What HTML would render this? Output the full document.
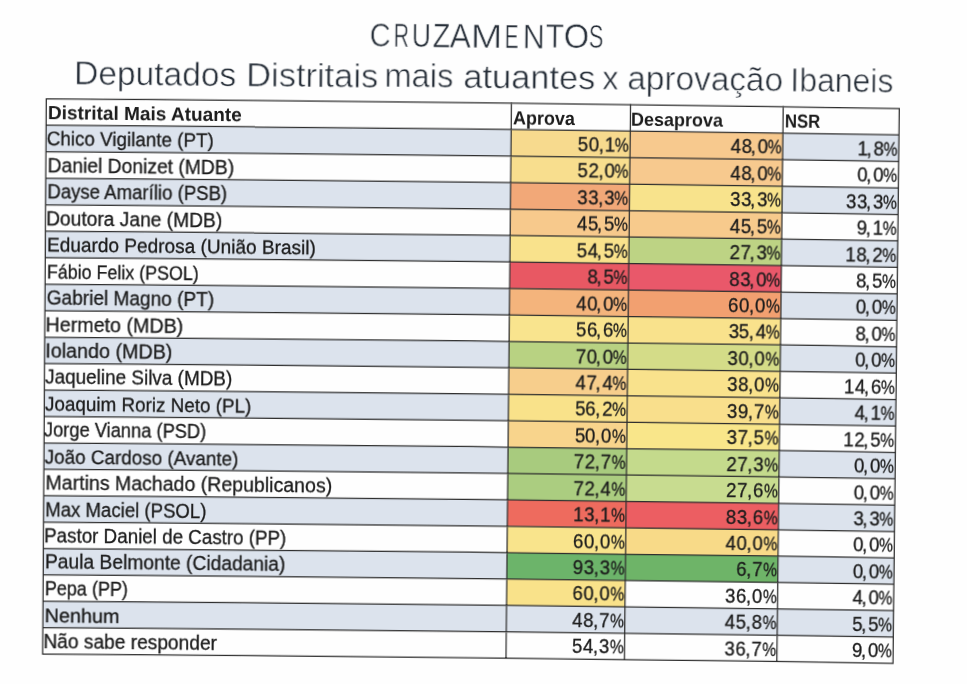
<!DOCTYPE html>
<html><head><meta charset="utf-8"><style>
html,body{margin:0;padding:0;}
body{width:967px;height:684px;overflow:hidden;background:#fefefe;position:relative;}
#pg{position:absolute;left:0;top:0;width:967px;height:684px;transform-origin:0 0;transform:matrix3d(1.00130688,0.01146346,0,0.0000007832,-0.00624332,1.00435105,0,0.0000057317,0,0,1,0,0.584229,-0.901110,0,1);filter:blur(0.35px);}
.t{position:absolute;font-family:"Liberation Sans",sans-serif;white-space:pre;line-height:1;transform-origin:0 0;-webkit-text-stroke:0.3px #1c1c1c;}
.f{position:absolute;}
.l{position:absolute;background:#2e2e2e;}
</style></head><body><div id="pg">
<svg width="967" height="684" style="position:absolute;left:0;top:0;overflow:visible"><path fill="#dce3ed" d="M46.30,125.24Q278.79,124.15 511.28,124.25L511.27,150.68Q278.78,150.59 46.30,151.68Z"/><path fill="#f7da8e" d="M511.28,124.25Q570.85,124.27 630.41,124.37L630.38,150.81Q570.82,150.71 511.27,150.68Z"/><path fill="#f7c98e" d="M630.41,124.37Q706.77,124.51 783.13,124.77L783.11,151.21Q706.74,150.95 630.38,150.81Z"/><path fill="#dce3ed" d="M783.13,124.77Q841.21,124.97 899.30,125.24L899.30,151.68Q841.20,151.40 783.11,151.21Z"/><path fill="#f8de8e" d="M511.27,150.68Q570.82,150.71 630.38,150.81L630.34,177.25Q570.80,177.15 511.25,177.12Z"/><path fill="#f7c98e" d="M630.38,150.81Q706.74,150.95 783.11,151.21L783.09,177.64Q706.71,177.38 630.34,177.25Z"/><path fill="#dce3ed" d="M46.30,178.11Q278.77,177.02 511.25,177.12L511.23,203.56Q278.77,203.46 46.30,204.55Z"/><path fill="#f2a878" d="M511.25,177.12Q570.80,177.15 630.34,177.25L630.31,203.69Q570.77,203.59 511.23,203.56Z"/><path fill="#f8e38c" d="M630.34,177.25Q706.71,177.38 783.09,177.64L783.06,204.08Q706.69,203.82 630.31,203.69Z"/><path fill="#dce3ed" d="M783.09,177.64Q841.19,177.84 899.30,178.11L899.30,204.55Q841.18,204.28 783.06,204.08Z"/><path fill="#f7c98c" d="M511.23,203.56Q570.77,203.59 630.31,203.69L630.27,230.13Q570.74,230.02 511.22,230.00Z"/><path fill="#f7ca8c" d="M630.31,203.69Q706.69,203.82 783.06,204.08L783.04,230.52Q706.66,230.26 630.27,230.13Z"/><path fill="#dce3ed" d="M46.30,230.99Q278.76,229.90 511.22,230.00L511.20,256.44Q278.75,256.34 46.30,257.43Z"/><path fill="#f9e28c" d="M511.22,230.00Q570.74,230.02 630.27,230.13L630.24,256.56Q570.72,256.46 511.20,256.44Z"/><path fill="#bdd384" d="M630.27,230.13Q706.66,230.26 783.04,230.52L783.02,256.96Q706.63,256.70 630.24,256.56Z"/><path fill="#dce3ed" d="M783.04,230.52Q841.17,230.72 899.30,230.99L899.30,257.43Q841.16,257.16 783.02,256.96Z"/><path fill="#e85863" d="M511.20,256.44Q570.72,256.46 630.24,256.56L630.20,283.00Q570.69,282.90 511.18,282.87Z"/><path fill="#e9586a" d="M630.24,256.56Q706.63,256.70 783.02,256.96L783.00,283.40Q706.60,283.14 630.20,283.00Z"/><path fill="#dce3ed" d="M46.30,283.87Q278.74,282.78 511.18,282.87L511.17,309.31Q278.73,309.21 46.30,310.30Z"/><path fill="#f4b47c" d="M511.18,282.87Q570.69,282.90 630.20,283.00L630.16,309.44Q570.67,309.34 511.17,309.31Z"/><path fill="#f2a070" d="M630.20,283.00Q706.60,283.14 783.00,283.40L782.98,309.83Q706.57,309.57 630.16,309.44Z"/><path fill="#dce3ed" d="M783.00,283.40Q841.15,283.59 899.30,283.87L899.30,310.30Q841.14,310.03 782.98,309.83Z"/><path fill="#f9e48e" d="M511.17,309.31Q570.67,309.34 630.16,309.44L630.13,335.88Q570.64,335.78 511.15,335.75Z"/><path fill="#f9e28c" d="M630.16,309.44Q706.57,309.57 782.98,309.83L782.96,336.27Q706.54,336.01 630.13,335.88Z"/><path fill="#dce3ed" d="M46.30,336.74Q278.72,335.65 511.15,335.75L511.13,362.19Q278.72,362.09 46.30,363.18Z"/><path fill="#b8d282" d="M511.15,335.75Q570.64,335.78 630.13,335.88L630.09,362.32Q570.61,362.21 511.13,362.19Z"/><path fill="#d4dc88" d="M630.13,335.88Q706.54,336.01 782.96,336.27L782.94,362.71Q706.51,362.45 630.09,362.32Z"/><path fill="#dce3ed" d="M782.96,336.27Q841.13,336.47 899.30,336.74L899.30,363.18Q841.12,362.91 782.94,362.71Z"/><path fill="#f7ce8c" d="M511.13,362.19Q570.61,362.21 630.09,362.32L630.06,388.75Q570.59,388.65 511.12,388.63Z"/><path fill="#f9e28c" d="M630.09,362.32Q706.51,362.45 782.94,362.71L782.91,389.15Q706.49,388.89 630.06,388.75Z"/><path fill="#dce3ed" d="M46.30,389.62Q278.71,388.53 511.12,388.63L511.10,415.07Q278.70,414.97 46.30,416.06Z"/><path fill="#f9e28a" d="M511.12,388.63Q570.59,388.65 630.06,388.75L630.02,415.19Q570.56,415.09 511.10,415.07Z"/><path fill="#f9df8c" d="M630.06,388.75Q706.49,388.89 782.91,389.15L782.89,415.59Q706.46,415.33 630.02,415.19Z"/><path fill="#dce3ed" d="M782.91,389.15Q841.11,389.35 899.30,389.62L899.30,416.06Q841.10,415.78 782.89,415.59Z"/><path fill="#f8d48c" d="M511.10,415.07Q570.56,415.09 630.02,415.19L629.99,441.63Q570.53,441.53 511.08,441.50Z"/><path fill="#f9e68a" d="M630.02,415.19Q706.46,415.33 782.89,415.59L782.87,442.02Q706.43,441.76 629.99,441.63Z"/><path fill="#dce3ed" d="M46.30,442.50Q278.69,441.41 511.08,441.50L511.07,467.94Q278.68,467.84 46.30,468.93Z"/><path fill="#a8cb7e" d="M511.08,441.50Q570.53,441.53 629.99,441.63L629.95,468.07Q570.51,467.97 511.07,467.94Z"/><path fill="#c4da8c" d="M629.99,441.63Q706.43,441.76 782.87,442.02L782.85,468.46Q706.40,468.20 629.95,468.07Z"/><path fill="#dce3ed" d="M782.87,442.02Q841.09,442.22 899.30,442.50L899.30,468.93Q841.08,468.66 782.85,468.46Z"/><path fill="#abcd80" d="M511.07,467.94Q570.51,467.97 629.95,468.07L629.91,494.51Q570.48,494.40 511.05,494.38Z"/><path fill="#c8dc90" d="M629.95,468.07Q706.40,468.20 782.85,468.46L782.83,494.90Q706.37,494.64 629.91,494.51Z"/><path fill="#dce3ed" d="M46.30,495.37Q278.68,494.28 511.05,494.38L511.03,520.82Q278.67,520.72 46.30,521.81Z"/><path fill="#ee6b5e" d="M511.05,494.38Q570.48,494.40 629.91,494.51L629.88,520.95Q570.46,520.84 511.03,520.82Z"/><path fill="#ec5e62" d="M629.91,494.51Q706.37,494.64 782.83,494.90L782.81,521.34Q706.34,521.08 629.88,520.95Z"/><path fill="#dce3ed" d="M782.83,494.90Q841.06,495.10 899.30,495.37L899.30,521.81Q841.05,521.54 782.81,521.34Z"/><path fill="#f9e48c" d="M511.03,520.82Q570.46,520.84 629.88,520.95L629.84,547.38Q570.43,547.28 511.02,547.26Z"/><path fill="#f8da88" d="M629.88,520.95Q706.34,521.08 782.81,521.34L782.79,547.78Q706.31,547.52 629.84,547.38Z"/><path fill="#dce3ed" d="M46.30,548.25Q278.66,547.16 511.02,547.26L511.00,573.69Q278.65,573.60 46.30,574.69Z"/><path fill="#6cb46a" d="M511.02,547.26Q570.43,547.28 629.84,547.38L629.81,573.82Q570.40,573.72 511.00,573.69Z"/><path fill="#6eb468" d="M629.84,547.38Q706.31,547.52 782.79,547.78L782.76,574.21Q706.29,573.95 629.81,573.82Z"/><path fill="#dce3ed" d="M782.79,547.78Q841.04,547.97 899.30,548.25L899.30,574.69Q841.03,574.41 782.76,574.21Z"/><path fill="#f9e28a" d="M511.00,573.69Q570.40,573.72 629.81,573.82L629.77,600.26Q570.38,600.16 510.98,600.13Z"/><path fill="#dce3ed" d="M46.30,601.12Q278.64,600.03 510.98,600.13L510.97,626.57Q278.63,626.47 46.30,627.56Z"/><path fill="#dce3ed" d="M510.98,600.13Q570.38,600.16 629.77,600.26L629.74,626.70Q570.35,626.59 510.97,626.57Z"/><path fill="#dce3ed" d="M629.77,600.26Q706.26,600.39 782.74,600.65L782.72,627.09Q706.23,626.83 629.74,626.70Z"/><path fill="#dce3ed" d="M782.74,600.65Q841.02,600.85 899.30,601.12L899.30,627.56Q841.01,627.29 782.72,627.09Z"/><path fill="none" stroke="#2e2e2e" stroke-width="1.25" d="M45.67,98.80Q472.80,96.80 899.92,98.80M45.67,125.24Q472.80,123.24 899.92,125.24M45.67,151.68Q472.80,149.67 899.92,151.68M45.67,178.12Q472.80,176.11 899.92,178.12M45.67,204.56Q472.80,202.55 899.92,204.56M45.67,230.99Q472.80,228.99 899.92,230.99M45.67,257.43Q472.80,255.43 899.92,257.43M45.67,283.87Q472.80,281.86 899.92,283.87M45.67,310.31Q472.80,308.30 899.92,310.31M45.67,336.75Q472.80,334.74 899.92,336.75M45.67,363.18Q472.80,361.18 899.92,363.18M45.67,389.62Q472.80,387.62 899.92,389.62M45.67,416.06Q472.80,414.05 899.92,416.06M45.67,442.50Q472.80,440.49 899.92,442.50M45.67,468.94Q472.80,466.93 899.92,468.94M45.67,495.37Q472.80,493.37 899.92,495.37M45.67,521.81Q472.80,519.81 899.92,521.81M45.67,548.25Q472.80,546.24 899.92,548.25M45.67,574.69Q472.80,572.68 899.92,574.69M45.67,601.13Q472.80,599.12 899.92,601.13M45.67,627.56Q472.80,625.56 899.92,627.56M45.67,654.00Q472.80,652.00 899.92,654.00M46.30,98.17L46.30,654.62M511.30,97.18L510.95,653.63M630.45,97.31L629.70,653.76M783.15,97.70L782.70,654.15M899.30,98.17L899.30,654.62"/></svg>
<div class="t" style="left:369.171px;top:15.060px;font-size:33.7px;transform:scaleX(0.8620);color:#262e38;-webkit-text-stroke:0.6px #fefefe">C</div>
<div class="t" style="left:392.797px;top:14.985px;font-size:33.7px;transform:scaleX(0.6301);color:#262e38;-webkit-text-stroke:0.6px #fefefe">R</div>
<div class="t" style="left:410.582px;top:14.915px;font-size:33.7px;transform:scaleX(0.7884);color:#262e38;-webkit-text-stroke:0.6px #fefefe">U</div>
<div class="t" style="left:431.694px;top:14.842px;font-size:33.7px;transform:scaleX(0.8551);color:#262e38;-webkit-text-stroke:0.6px #fefefe">Z</div>
<div class="t" style="left:448.744px;top:14.774px;font-size:33.7px;transform:scaleX(0.9394);color:#262e38;-webkit-text-stroke:0.6px #fefefe">A</div>
<div class="t" style="left:470.195px;top:14.678px;font-size:33.7px;transform:scaleX(1.1217);color:#262e38;-webkit-text-stroke:0.6px #fefefe">M</div>
<div class="t" style="left:503.671px;top:14.588px;font-size:33.7px;transform:scaleX(0.6184);color:#262e38;-webkit-text-stroke:0.6px #fefefe">E</div>
<div class="t" style="left:521.664px;top:14.510px;font-size:33.7px;transform:scaleX(0.9074);color:#262e38;-webkit-text-stroke:0.6px #fefefe">N</div>
<div class="t" style="left:544.799px;top:14.433px;font-size:33.7px;transform:scaleX(0.8962);color:#262e38;-webkit-text-stroke:0.6px #fefefe">T</div>
<div class="t" style="left:563.322px;top:14.354px;font-size:33.7px;transform:scaleX(0.9685);color:#262e38;-webkit-text-stroke:0.6px #fefefe">O</div>
<div class="t" style="left:587.740px;top:14.286px;font-size:33.7px;transform:scaleX(0.6500);color:#262e38;-webkit-text-stroke:0.6px #fefefe">S</div>
<div class="t" id="sub0" style="left:73.745px;top:56.311px;font-size:33.0px;font-weight:400;transform:scaleX(1.01474);color:#262e38;-webkit-text-stroke:0.6px #fefefe">Deputados</div>
<div class="t" id="sub1" style="left:245.625px;top:55.628px;font-size:33.0px;font-weight:400;transform:scaleX(1.04205);color:#262e38;-webkit-text-stroke:0.6px #fefefe">Distritais</div>
<div class="t" id="sub2" style="left:384.443px;top:55.317px;font-size:33.0px;font-weight:400;transform:scaleX(0.99283);color:#262e38;-webkit-text-stroke:0.6px #fefefe">mais</div>
<div class="t" id="sub3" style="left:462.553px;top:55.129px;font-size:33.0px;font-weight:400;transform:scaleX(1.04238);color:#262e38;-webkit-text-stroke:0.6px #fefefe">atuantes</div>
<div class="t" id="sub4" style="left:602.077px;top:55.075px;font-size:33.0px;font-weight:400;transform:scaleX(0.97667);color:#262e38;-webkit-text-stroke:0.6px #fefefe">x</div>
<div class="t" id="sub5" style="left:626.591px;top:55.103px;font-size:33.0px;font-weight:400;transform:scaleX(1.01041);color:#262e38;-webkit-text-stroke:0.6px #fefefe">aprovação</div>
<div class="t" id="sub6" style="left:789.953px;top:55.322px;font-size:33.0px;font-weight:400;transform:scaleX(0.96908);color:#262e38;-webkit-text-stroke:0.6px #fefefe">Ibaneis</div>
<div class="t" id="h0" style="left:47.576px;top:103.349px;font-size:19.0px;font-weight:700;transform:scaleX(1.00116);color:#1c1c1c;-webkit-text-stroke:0">Distrital Mais Atuante</div>
<div class="t" id="h1" style="left:512.933px;top:102.787px;font-size:19.0px;font-weight:700;transform:scaleX(0.94562);color:#1c1c1c;-webkit-text-stroke:0">Aprova</div>
<div class="t" id="h2" style="left:630.726px;top:102.995px;font-size:19.0px;font-weight:700;transform:scaleX(0.94626);color:#1c1c1c;-webkit-text-stroke:0">Desaprova</div>
<div class="t" id="h3" style="left:784.762px;top:103.347px;font-size:19.0px;font-weight:700;transform:scaleX(0.87989);color:#1c1c1c;-webkit-text-stroke:0">NSR</div>
<div class="t" id="n0" style="left:47.435px;top:129.425px;font-size:19.5px;font-weight:400;transform:scaleX(0.96489);color:#1c1c1c">Chico Vigilante (PT)</div>
<div class="t" style="left:615.440px;top:129.042px;font-size:19.3px;transform:scaleX(0.8100);color:#1c1c1c">%</div>
<div class="t" style="left:604.639px;top:129.042px;font-size:19.3px;transform:scaleX(0.9700);color:#1c1c1c">1</div>
<div class="t" style="left:598.594px;top:129.042px;font-size:19.3px;transform:scaleX(0.9700);color:#1c1c1c">,</div>
<div class="t" style="left:588.892px;top:129.042px;font-size:19.3px;transform:scaleX(0.9700);color:#1c1c1c">0</div>
<div class="t" style="left:577.911px;top:129.042px;font-size:19.3px;transform:scaleX(0.9700);color:#1c1c1c">5</div>
<div class="t" style="left:768.161px;top:129.390px;font-size:19.3px;transform:scaleX(0.8100);color:#1c1c1c">%</div>
<div class="t" style="left:757.613px;top:129.390px;font-size:19.3px;transform:scaleX(0.9700);color:#1c1c1c">0</div>
<div class="t" style="left:751.316px;top:129.390px;font-size:19.3px;transform:scaleX(0.9700);color:#1c1c1c">,</div>
<div class="t" style="left:741.613px;top:129.390px;font-size:19.3px;transform:scaleX(0.9700);color:#1c1c1c">8</div>
<div class="t" style="left:730.670px;top:129.390px;font-size:19.3px;transform:scaleX(0.9700);color:#1c1c1c">4</div>
<div class="t" style="left:884.343px;top:129.827px;font-size:19.3px;transform:scaleX(0.8100);color:#1c1c1c">%</div>
<div class="t" style="left:873.796px;top:129.827px;font-size:19.3px;transform:scaleX(0.9700);color:#1c1c1c">8</div>
<div class="t" style="left:867.498px;top:129.827px;font-size:19.3px;transform:scaleX(0.9700);color:#1c1c1c">,</div>
<div class="t" style="left:857.543px;top:129.827px;font-size:19.3px;transform:scaleX(0.9700);color:#1c1c1c">1</div>
<div class="t" id="n1" style="left:47.844px;top:155.827px;font-size:19.5px;font-weight:400;transform:scaleX(0.98944);color:#1c1c1c">Daniel Donizet (MDB)</div>
<div class="t" style="left:615.404px;top:155.480px;font-size:19.3px;transform:scaleX(0.8100);color:#1c1c1c">%</div>
<div class="t" style="left:604.856px;top:155.480px;font-size:19.3px;transform:scaleX(0.9700);color:#1c1c1c">0</div>
<div class="t" style="left:598.558px;top:155.480px;font-size:19.3px;transform:scaleX(0.9700);color:#1c1c1c">,</div>
<div class="t" style="left:588.856px;top:155.480px;font-size:19.3px;transform:scaleX(0.9700);color:#1c1c1c">2</div>
<div class="t" style="left:577.875px;top:155.480px;font-size:19.3px;transform:scaleX(0.9700);color:#1c1c1c">5</div>
<div class="t" style="left:768.140px;top:155.828px;font-size:19.3px;transform:scaleX(0.8100);color:#1c1c1c">%</div>
<div class="t" style="left:757.592px;top:155.828px;font-size:19.3px;transform:scaleX(0.9700);color:#1c1c1c">0</div>
<div class="t" style="left:751.294px;top:155.828px;font-size:19.3px;transform:scaleX(0.9700);color:#1c1c1c">,</div>
<div class="t" style="left:741.592px;top:155.828px;font-size:19.3px;transform:scaleX(0.9700);color:#1c1c1c">8</div>
<div class="t" style="left:730.648px;top:155.828px;font-size:19.3px;transform:scaleX(0.9700);color:#1c1c1c">4</div>
<div class="t" style="left:884.343px;top:156.265px;font-size:19.3px;transform:scaleX(0.8100);color:#1c1c1c">%</div>
<div class="t" style="left:873.796px;top:156.265px;font-size:19.3px;transform:scaleX(0.9700);color:#1c1c1c">0</div>
<div class="t" style="left:867.498px;top:156.265px;font-size:19.3px;transform:scaleX(0.9700);color:#1c1c1c">,</div>
<div class="t" style="left:857.796px;top:156.265px;font-size:19.3px;transform:scaleX(0.9700);color:#1c1c1c">0</div>
<div class="t" id="n2" style="left:47.601px;top:182.278px;font-size:19.5px;font-weight:400;transform:scaleX(0.95361);color:#1c1c1c">Dayse Amarílio (PSB)</div>
<div class="t" style="left:615.368px;top:181.918px;font-size:19.3px;transform:scaleX(0.8100);color:#1c1c1c">%</div>
<div class="t" style="left:604.877px;top:181.918px;font-size:19.3px;transform:scaleX(0.9700);color:#1c1c1c">3</div>
<div class="t" style="left:598.523px;top:181.918px;font-size:19.3px;transform:scaleX(0.9700);color:#1c1c1c">,</div>
<div class="t" style="left:588.877px;top:181.918px;font-size:19.3px;transform:scaleX(0.9700);color:#1c1c1c">3</div>
<div class="t" style="left:577.877px;top:181.918px;font-size:19.3px;transform:scaleX(0.9700);color:#1c1c1c">3</div>
<div class="t" style="left:768.118px;top:182.266px;font-size:19.3px;transform:scaleX(0.8100);color:#1c1c1c">%</div>
<div class="t" style="left:757.627px;top:182.266px;font-size:19.3px;transform:scaleX(0.9700);color:#1c1c1c">3</div>
<div class="t" style="left:751.273px;top:182.266px;font-size:19.3px;transform:scaleX(0.9700);color:#1c1c1c">,</div>
<div class="t" style="left:741.627px;top:182.266px;font-size:19.3px;transform:scaleX(0.9700);color:#1c1c1c">3</div>
<div class="t" style="left:730.627px;top:182.266px;font-size:19.3px;transform:scaleX(0.9700);color:#1c1c1c">3</div>
<div class="t" style="left:884.343px;top:182.703px;font-size:19.3px;transform:scaleX(0.8100);color:#1c1c1c">%</div>
<div class="t" style="left:873.852px;top:182.703px;font-size:19.3px;transform:scaleX(0.9700);color:#1c1c1c">3</div>
<div class="t" style="left:867.498px;top:182.703px;font-size:19.3px;transform:scaleX(0.9700);color:#1c1c1c">,</div>
<div class="t" style="left:857.852px;top:182.703px;font-size:19.3px;transform:scaleX(0.9700);color:#1c1c1c">3</div>
<div class="t" style="left:846.852px;top:182.703px;font-size:19.3px;transform:scaleX(0.9700);color:#1c1c1c">3</div>
<div class="t" id="n3" style="left:47.070px;top:208.724px;font-size:19.5px;font-weight:400;transform:scaleX(0.98440);color:#1c1c1c">Doutora Jane (MDB)</div>
<div class="t" style="left:615.333px;top:208.356px;font-size:19.3px;transform:scaleX(0.8100);color:#1c1c1c">%</div>
<div class="t" style="left:604.804px;top:208.356px;font-size:19.3px;transform:scaleX(0.9700);color:#1c1c1c">5</div>
<div class="t" style="left:598.487px;top:208.356px;font-size:19.3px;transform:scaleX(0.9700);color:#1c1c1c">,</div>
<div class="t" style="left:588.804px;top:208.356px;font-size:19.3px;transform:scaleX(0.9700);color:#1c1c1c">5</div>
<div class="t" style="left:577.841px;top:208.356px;font-size:19.3px;transform:scaleX(0.9700);color:#1c1c1c">4</div>
<div class="t" style="left:768.097px;top:208.704px;font-size:19.3px;transform:scaleX(0.8100);color:#1c1c1c">%</div>
<div class="t" style="left:757.568px;top:208.704px;font-size:19.3px;transform:scaleX(0.9700);color:#1c1c1c">5</div>
<div class="t" style="left:751.251px;top:208.704px;font-size:19.3px;transform:scaleX(0.9700);color:#1c1c1c">,</div>
<div class="t" style="left:741.568px;top:208.704px;font-size:19.3px;transform:scaleX(0.9700);color:#1c1c1c">5</div>
<div class="t" style="left:730.605px;top:208.704px;font-size:19.3px;transform:scaleX(0.9700);color:#1c1c1c">4</div>
<div class="t" style="left:884.343px;top:209.141px;font-size:19.3px;transform:scaleX(0.8100);color:#1c1c1c">%</div>
<div class="t" style="left:873.543px;top:209.141px;font-size:19.3px;transform:scaleX(0.9700);color:#1c1c1c">1</div>
<div class="t" style="left:867.498px;top:209.141px;font-size:19.3px;transform:scaleX(0.9700);color:#1c1c1c">,</div>
<div class="t" style="left:857.796px;top:209.141px;font-size:19.3px;transform:scaleX(0.9700);color:#1c1c1c">9</div>
<div class="t" id="n4" style="left:47.719px;top:235.001px;font-size:19.5px;font-weight:400;transform:scaleX(0.97668);color:#1c1c1c">Eduardo Pedrosa (União Brasil)</div>
<div class="t" style="left:615.297px;top:234.794px;font-size:19.3px;transform:scaleX(0.8100);color:#1c1c1c">%</div>
<div class="t" style="left:604.768px;top:234.794px;font-size:19.3px;transform:scaleX(0.9700);color:#1c1c1c">5</div>
<div class="t" style="left:598.451px;top:234.794px;font-size:19.3px;transform:scaleX(0.9700);color:#1c1c1c">,</div>
<div class="t" style="left:588.805px;top:234.794px;font-size:19.3px;transform:scaleX(0.9700);color:#1c1c1c">4</div>
<div class="t" style="left:577.768px;top:234.794px;font-size:19.3px;transform:scaleX(0.9700);color:#1c1c1c">5</div>
<div class="t" style="left:768.075px;top:235.142px;font-size:19.3px;transform:scaleX(0.8100);color:#1c1c1c">%</div>
<div class="t" style="left:757.584px;top:235.142px;font-size:19.3px;transform:scaleX(0.9700);color:#1c1c1c">3</div>
<div class="t" style="left:751.230px;top:235.142px;font-size:19.3px;transform:scaleX(0.9700);color:#1c1c1c">,</div>
<div class="t" style="left:741.518px;top:235.142px;font-size:19.3px;transform:scaleX(0.9700);color:#1c1c1c">7</div>
<div class="t" style="left:730.528px;top:235.142px;font-size:19.3px;transform:scaleX(0.9700);color:#1c1c1c">2</div>
<div class="t" style="left:884.343px;top:235.579px;font-size:19.3px;transform:scaleX(0.8100);color:#1c1c1c">%</div>
<div class="t" style="left:873.796px;top:235.579px;font-size:19.3px;transform:scaleX(0.9700);color:#1c1c1c">2</div>
<div class="t" style="left:867.498px;top:235.579px;font-size:19.3px;transform:scaleX(0.9700);color:#1c1c1c">,</div>
<div class="t" style="left:857.796px;top:235.579px;font-size:19.3px;transform:scaleX(0.9700);color:#1c1c1c">8</div>
<div class="t" style="left:846.543px;top:235.579px;font-size:19.3px;transform:scaleX(0.9700);color:#1c1c1c">1</div>
<div class="t" id="n5" style="left:47.533px;top:261.646px;font-size:19.5px;font-weight:400;transform:scaleX(0.91614);color:#1c1c1c">Fábio Felix (PSOL)</div>
<div class="t" style="left:615.261px;top:261.232px;font-size:19.3px;transform:scaleX(0.8100);color:#1c1c1c">%</div>
<div class="t" style="left:604.732px;top:261.232px;font-size:19.3px;transform:scaleX(0.9700);color:#1c1c1c">5</div>
<div class="t" style="left:598.416px;top:261.232px;font-size:19.3px;transform:scaleX(0.9700);color:#1c1c1c">,</div>
<div class="t" style="left:588.713px;top:261.232px;font-size:19.3px;transform:scaleX(0.9700);color:#1c1c1c">8</div>
<div class="t" style="left:768.054px;top:261.580px;font-size:19.3px;transform:scaleX(0.8100);color:#1c1c1c">%</div>
<div class="t" style="left:757.506px;top:261.580px;font-size:19.3px;transform:scaleX(0.9700);color:#1c1c1c">0</div>
<div class="t" style="left:751.208px;top:261.580px;font-size:19.3px;transform:scaleX(0.9700);color:#1c1c1c">,</div>
<div class="t" style="left:741.562px;top:261.580px;font-size:19.3px;transform:scaleX(0.9700);color:#1c1c1c">3</div>
<div class="t" style="left:730.506px;top:261.580px;font-size:19.3px;transform:scaleX(0.9700);color:#1c1c1c">8</div>
<div class="t" style="left:884.343px;top:262.017px;font-size:19.3px;transform:scaleX(0.8100);color:#1c1c1c">%</div>
<div class="t" style="left:873.814px;top:262.017px;font-size:19.3px;transform:scaleX(0.9700);color:#1c1c1c">5</div>
<div class="t" style="left:867.498px;top:262.017px;font-size:19.3px;transform:scaleX(0.9700);color:#1c1c1c">,</div>
<div class="t" style="left:857.796px;top:262.017px;font-size:19.3px;transform:scaleX(0.9700);color:#1c1c1c">8</div>
<div class="t" id="n6" style="left:47.899px;top:288.055px;font-size:19.5px;font-weight:400;transform:scaleX(0.97837);color:#1c1c1c">Gabriel Magno (PT)</div>
<div class="t" style="left:615.225px;top:287.670px;font-size:19.3px;transform:scaleX(0.8100);color:#1c1c1c">%</div>
<div class="t" style="left:604.678px;top:287.670px;font-size:19.3px;transform:scaleX(0.9700);color:#1c1c1c">0</div>
<div class="t" style="left:598.380px;top:287.670px;font-size:19.3px;transform:scaleX(0.9700);color:#1c1c1c">,</div>
<div class="t" style="left:588.678px;top:287.670px;font-size:19.3px;transform:scaleX(0.9700);color:#1c1c1c">0</div>
<div class="t" style="left:577.734px;top:287.670px;font-size:19.3px;transform:scaleX(0.9700);color:#1c1c1c">4</div>
<div class="t" style="left:768.033px;top:288.018px;font-size:19.3px;transform:scaleX(0.8100);color:#1c1c1c">%</div>
<div class="t" style="left:757.485px;top:288.018px;font-size:19.3px;transform:scaleX(0.9700);color:#1c1c1c">0</div>
<div class="t" style="left:751.187px;top:288.018px;font-size:19.3px;transform:scaleX(0.9700);color:#1c1c1c">,</div>
<div class="t" style="left:741.485px;top:288.018px;font-size:19.3px;transform:scaleX(0.9700);color:#1c1c1c">0</div>
<div class="t" style="left:730.419px;top:288.018px;font-size:19.3px;transform:scaleX(0.9700);color:#1c1c1c">6</div>
<div class="t" style="left:884.343px;top:288.455px;font-size:19.3px;transform:scaleX(0.8100);color:#1c1c1c">%</div>
<div class="t" style="left:873.796px;top:288.455px;font-size:19.3px;transform:scaleX(0.9700);color:#1c1c1c">0</div>
<div class="t" style="left:867.498px;top:288.455px;font-size:19.3px;transform:scaleX(0.9700);color:#1c1c1c">,</div>
<div class="t" style="left:857.796px;top:288.455px;font-size:19.3px;transform:scaleX(0.9700);color:#1c1c1c">0</div>
<div class="t" id="n7" style="left:47.304px;top:314.551px;font-size:19.5px;font-weight:400;transform:scaleX(1.00993);color:#1c1c1c">Hermeto (MDB)</div>
<div class="t" style="left:615.190px;top:314.108px;font-size:19.3px;transform:scaleX(0.8100);color:#1c1c1c">%</div>
<div class="t" style="left:604.576px;top:314.108px;font-size:19.3px;transform:scaleX(0.9700);color:#1c1c1c">6</div>
<div class="t" style="left:598.344px;top:314.108px;font-size:19.3px;transform:scaleX(0.9700);color:#1c1c1c">,</div>
<div class="t" style="left:588.576px;top:314.108px;font-size:19.3px;transform:scaleX(0.9700);color:#1c1c1c">6</div>
<div class="t" style="left:577.661px;top:314.108px;font-size:19.3px;transform:scaleX(0.9700);color:#1c1c1c">5</div>
<div class="t" style="left:768.011px;top:314.456px;font-size:19.3px;transform:scaleX(0.8100);color:#1c1c1c">%</div>
<div class="t" style="left:757.520px;top:314.456px;font-size:19.3px;transform:scaleX(0.9700);color:#1c1c1c">4</div>
<div class="t" style="left:751.166px;top:314.456px;font-size:19.3px;transform:scaleX(0.9700);color:#1c1c1c">,</div>
<div class="t" style="left:741.482px;top:314.456px;font-size:19.3px;transform:scaleX(0.9700);color:#1c1c1c">5</div>
<div class="t" style="left:730.520px;top:314.456px;font-size:19.3px;transform:scaleX(0.9700);color:#1c1c1c">3</div>
<div class="t" style="left:884.343px;top:314.893px;font-size:19.3px;transform:scaleX(0.8100);color:#1c1c1c">%</div>
<div class="t" style="left:873.796px;top:314.893px;font-size:19.3px;transform:scaleX(0.9700);color:#1c1c1c">0</div>
<div class="t" style="left:867.498px;top:314.893px;font-size:19.3px;transform:scaleX(0.9700);color:#1c1c1c">,</div>
<div class="t" style="left:857.796px;top:314.893px;font-size:19.3px;transform:scaleX(0.9700);color:#1c1c1c">8</div>
<div class="t" id="n8" style="left:47.200px;top:341.011px;font-size:19.5px;font-weight:400;transform:scaleX(1.01139);color:#1c1c1c">Iolando (MDB)</div>
<div class="t" style="left:615.154px;top:340.546px;font-size:19.3px;transform:scaleX(0.8100);color:#1c1c1c">%</div>
<div class="t" style="left:604.606px;top:340.546px;font-size:19.3px;transform:scaleX(0.9700);color:#1c1c1c">0</div>
<div class="t" style="left:598.308px;top:340.546px;font-size:19.3px;transform:scaleX(0.9700);color:#1c1c1c">,</div>
<div class="t" style="left:588.606px;top:340.546px;font-size:19.3px;transform:scaleX(0.9700);color:#1c1c1c">0</div>
<div class="t" style="left:577.597px;top:340.546px;font-size:19.3px;transform:scaleX(0.9700);color:#1c1c1c">7</div>
<div class="t" style="left:767.990px;top:340.894px;font-size:19.3px;transform:scaleX(0.8100);color:#1c1c1c">%</div>
<div class="t" style="left:757.442px;top:340.894px;font-size:19.3px;transform:scaleX(0.9700);color:#1c1c1c">0</div>
<div class="t" style="left:751.144px;top:340.894px;font-size:19.3px;transform:scaleX(0.9700);color:#1c1c1c">,</div>
<div class="t" style="left:741.442px;top:340.894px;font-size:19.3px;transform:scaleX(0.9700);color:#1c1c1c">0</div>
<div class="t" style="left:730.498px;top:340.894px;font-size:19.3px;transform:scaleX(0.9700);color:#1c1c1c">3</div>
<div class="t" style="left:884.343px;top:341.331px;font-size:19.3px;transform:scaleX(0.8100);color:#1c1c1c">%</div>
<div class="t" style="left:873.796px;top:341.331px;font-size:19.3px;transform:scaleX(0.9700);color:#1c1c1c">0</div>
<div class="t" style="left:867.498px;top:341.331px;font-size:19.3px;transform:scaleX(0.9700);color:#1c1c1c">,</div>
<div class="t" style="left:857.796px;top:341.331px;font-size:19.3px;transform:scaleX(0.9700);color:#1c1c1c">0</div>
<div class="t" id="n9" style="left:46.531px;top:367.336px;font-size:19.5px;font-weight:400;transform:scaleX(0.97082);color:#1c1c1c">Jaqueline Silva (MDB)</div>
<div class="t" style="left:615.118px;top:366.984px;font-size:19.3px;transform:scaleX(0.8100);color:#1c1c1c">%</div>
<div class="t" style="left:604.627px;top:366.984px;font-size:19.3px;transform:scaleX(0.9700);color:#1c1c1c">4</div>
<div class="t" style="left:598.273px;top:366.984px;font-size:19.3px;transform:scaleX(0.9700);color:#1c1c1c">,</div>
<div class="t" style="left:588.561px;top:366.984px;font-size:19.3px;transform:scaleX(0.9700);color:#1c1c1c">7</div>
<div class="t" style="left:577.627px;top:366.984px;font-size:19.3px;transform:scaleX(0.9700);color:#1c1c1c">4</div>
<div class="t" style="left:767.968px;top:367.332px;font-size:19.3px;transform:scaleX(0.8100);color:#1c1c1c">%</div>
<div class="t" style="left:757.421px;top:367.332px;font-size:19.3px;transform:scaleX(0.9700);color:#1c1c1c">0</div>
<div class="t" style="left:751.123px;top:367.332px;font-size:19.3px;transform:scaleX(0.9700);color:#1c1c1c">,</div>
<div class="t" style="left:741.421px;top:367.332px;font-size:19.3px;transform:scaleX(0.9700);color:#1c1c1c">8</div>
<div class="t" style="left:730.477px;top:367.332px;font-size:19.3px;transform:scaleX(0.9700);color:#1c1c1c">3</div>
<div class="t" style="left:884.343px;top:367.770px;font-size:19.3px;transform:scaleX(0.8100);color:#1c1c1c">%</div>
<div class="t" style="left:873.730px;top:367.770px;font-size:19.3px;transform:scaleX(0.9700);color:#1c1c1c">6</div>
<div class="t" style="left:867.498px;top:367.770px;font-size:19.3px;transform:scaleX(0.9700);color:#1c1c1c">,</div>
<div class="t" style="left:857.852px;top:367.770px;font-size:19.3px;transform:scaleX(0.9700);color:#1c1c1c">4</div>
<div class="t" style="left:846.543px;top:367.770px;font-size:19.3px;transform:scaleX(0.9700);color:#1c1c1c">1</div>
<div class="t" id="n10" style="left:46.784px;top:393.738px;font-size:19.5px;font-weight:400;transform:scaleX(0.96731);color:#1c1c1c">Joaquim Roriz Neto (PL)</div>
<div class="t" style="left:615.083px;top:393.422px;font-size:19.3px;transform:scaleX(0.8100);color:#1c1c1c">%</div>
<div class="t" style="left:604.535px;top:393.422px;font-size:19.3px;transform:scaleX(0.9700);color:#1c1c1c">2</div>
<div class="t" style="left:598.237px;top:393.422px;font-size:19.3px;transform:scaleX(0.9700);color:#1c1c1c">,</div>
<div class="t" style="left:588.469px;top:393.422px;font-size:19.3px;transform:scaleX(0.9700);color:#1c1c1c">6</div>
<div class="t" style="left:577.554px;top:393.422px;font-size:19.3px;transform:scaleX(0.9700);color:#1c1c1c">5</div>
<div class="t" style="left:767.947px;top:393.770px;font-size:19.3px;transform:scaleX(0.8100);color:#1c1c1c">%</div>
<div class="t" style="left:757.390px;top:393.770px;font-size:19.3px;transform:scaleX(0.9700);color:#1c1c1c">7</div>
<div class="t" style="left:751.101px;top:393.770px;font-size:19.3px;transform:scaleX(0.9700);color:#1c1c1c">,</div>
<div class="t" style="left:741.399px;top:393.770px;font-size:19.3px;transform:scaleX(0.9700);color:#1c1c1c">9</div>
<div class="t" style="left:730.455px;top:393.770px;font-size:19.3px;transform:scaleX(0.9700);color:#1c1c1c">3</div>
<div class="t" style="left:884.343px;top:394.208px;font-size:19.3px;transform:scaleX(0.8100);color:#1c1c1c">%</div>
<div class="t" style="left:873.543px;top:394.208px;font-size:19.3px;transform:scaleX(0.9700);color:#1c1c1c">1</div>
<div class="t" style="left:867.498px;top:394.208px;font-size:19.3px;transform:scaleX(0.9700);color:#1c1c1c">,</div>
<div class="t" style="left:857.852px;top:394.208px;font-size:19.3px;transform:scaleX(0.9700);color:#1c1c1c">4</div>
<div class="t" id="n11" style="left:46.403px;top:420.258px;font-size:19.5px;font-weight:400;transform:scaleX(0.93992);color:#1c1c1c">Jorge Vianna (PSD)</div>
<div class="t" style="left:615.047px;top:419.860px;font-size:19.3px;transform:scaleX(0.8100);color:#1c1c1c">%</div>
<div class="t" style="left:604.499px;top:419.860px;font-size:19.3px;transform:scaleX(0.9700);color:#1c1c1c">0</div>
<div class="t" style="left:598.201px;top:419.860px;font-size:19.3px;transform:scaleX(0.9700);color:#1c1c1c">,</div>
<div class="t" style="left:588.499px;top:419.860px;font-size:19.3px;transform:scaleX(0.9700);color:#1c1c1c">0</div>
<div class="t" style="left:577.518px;top:419.860px;font-size:19.3px;transform:scaleX(0.9700);color:#1c1c1c">5</div>
<div class="t" style="left:767.925px;top:420.208px;font-size:19.3px;transform:scaleX(0.8100);color:#1c1c1c">%</div>
<div class="t" style="left:757.396px;top:420.208px;font-size:19.3px;transform:scaleX(0.9700);color:#1c1c1c">5</div>
<div class="t" style="left:751.080px;top:420.208px;font-size:19.3px;transform:scaleX(0.9700);color:#1c1c1c">,</div>
<div class="t" style="left:741.368px;top:420.208px;font-size:19.3px;transform:scaleX(0.9700);color:#1c1c1c">7</div>
<div class="t" style="left:730.434px;top:420.208px;font-size:19.3px;transform:scaleX(0.9700);color:#1c1c1c">3</div>
<div class="t" style="left:884.343px;top:420.646px;font-size:19.3px;transform:scaleX(0.8100);color:#1c1c1c">%</div>
<div class="t" style="left:873.814px;top:420.646px;font-size:19.3px;transform:scaleX(0.9700);color:#1c1c1c">5</div>
<div class="t" style="left:867.498px;top:420.646px;font-size:19.3px;transform:scaleX(0.9700);color:#1c1c1c">,</div>
<div class="t" style="left:857.796px;top:420.646px;font-size:19.3px;transform:scaleX(0.9700);color:#1c1c1c">2</div>
<div class="t" style="left:846.543px;top:420.646px;font-size:19.3px;transform:scaleX(0.9700);color:#1c1c1c">1</div>
<div class="t" id="n12" style="left:46.962px;top:446.638px;font-size:19.5px;font-weight:400;transform:scaleX(0.96932);color:#1c1c1c">João Cardoso (Avante)</div>
<div class="t" style="left:615.011px;top:446.298px;font-size:19.3px;transform:scaleX(0.8100);color:#1c1c1c">%</div>
<div class="t" style="left:604.454px;top:446.298px;font-size:19.3px;transform:scaleX(0.9700);color:#1c1c1c">7</div>
<div class="t" style="left:598.166px;top:446.298px;font-size:19.3px;transform:scaleX(0.9700);color:#1c1c1c">,</div>
<div class="t" style="left:588.463px;top:446.298px;font-size:19.3px;transform:scaleX(0.9700);color:#1c1c1c">2</div>
<div class="t" style="left:577.454px;top:446.298px;font-size:19.3px;transform:scaleX(0.9700);color:#1c1c1c">7</div>
<div class="t" style="left:767.904px;top:446.646px;font-size:19.3px;transform:scaleX(0.8100);color:#1c1c1c">%</div>
<div class="t" style="left:757.412px;top:446.646px;font-size:19.3px;transform:scaleX(0.9700);color:#1c1c1c">3</div>
<div class="t" style="left:751.058px;top:446.646px;font-size:19.3px;transform:scaleX(0.9700);color:#1c1c1c">,</div>
<div class="t" style="left:741.347px;top:446.646px;font-size:19.3px;transform:scaleX(0.9700);color:#1c1c1c">7</div>
<div class="t" style="left:730.356px;top:446.646px;font-size:19.3px;transform:scaleX(0.9700);color:#1c1c1c">2</div>
<div class="t" style="left:884.343px;top:447.084px;font-size:19.3px;transform:scaleX(0.8100);color:#1c1c1c">%</div>
<div class="t" style="left:873.796px;top:447.084px;font-size:19.3px;transform:scaleX(0.9700);color:#1c1c1c">0</div>
<div class="t" style="left:867.498px;top:447.084px;font-size:19.3px;transform:scaleX(0.9700);color:#1c1c1c">,</div>
<div class="t" style="left:857.796px;top:447.084px;font-size:19.3px;transform:scaleX(0.9700);color:#1c1c1c">0</div>
<div class="t" id="n13" style="left:47.840px;top:472.919px;font-size:19.5px;font-weight:400;transform:scaleX(1.00374);color:#1c1c1c">Martins Machado (Republicanos)</div>
<div class="t" style="left:614.975px;top:472.736px;font-size:19.3px;transform:scaleX(0.8100);color:#1c1c1c">%</div>
<div class="t" style="left:604.484px;top:472.736px;font-size:19.3px;transform:scaleX(0.9700);color:#1c1c1c">4</div>
<div class="t" style="left:598.130px;top:472.736px;font-size:19.3px;transform:scaleX(0.9700);color:#1c1c1c">,</div>
<div class="t" style="left:588.428px;top:472.736px;font-size:19.3px;transform:scaleX(0.9700);color:#1c1c1c">2</div>
<div class="t" style="left:577.418px;top:472.736px;font-size:19.3px;transform:scaleX(0.9700);color:#1c1c1c">7</div>
<div class="t" style="left:767.883px;top:473.084px;font-size:19.3px;transform:scaleX(0.8100);color:#1c1c1c">%</div>
<div class="t" style="left:757.269px;top:473.084px;font-size:19.3px;transform:scaleX(0.9700);color:#1c1c1c">6</div>
<div class="t" style="left:751.037px;top:473.084px;font-size:19.3px;transform:scaleX(0.9700);color:#1c1c1c">,</div>
<div class="t" style="left:741.325px;top:473.084px;font-size:19.3px;transform:scaleX(0.9700);color:#1c1c1c">7</div>
<div class="t" style="left:730.335px;top:473.084px;font-size:19.3px;transform:scaleX(0.9700);color:#1c1c1c">2</div>
<div class="t" style="left:884.343px;top:473.522px;font-size:19.3px;transform:scaleX(0.8100);color:#1c1c1c">%</div>
<div class="t" style="left:873.796px;top:473.522px;font-size:19.3px;transform:scaleX(0.9700);color:#1c1c1c">0</div>
<div class="t" style="left:867.498px;top:473.522px;font-size:19.3px;transform:scaleX(0.9700);color:#1c1c1c">,</div>
<div class="t" style="left:857.796px;top:473.522px;font-size:19.3px;transform:scaleX(0.9700);color:#1c1c1c">0</div>
<div class="t" id="n14" style="left:47.629px;top:499.574px;font-size:19.5px;font-weight:400;transform:scaleX(0.95467);color:#1c1c1c">Max Maciel (PSOL)</div>
<div class="t" style="left:614.940px;top:499.174px;font-size:19.3px;transform:scaleX(0.8100);color:#1c1c1c">%</div>
<div class="t" style="left:604.139px;top:499.174px;font-size:19.3px;transform:scaleX(0.9700);color:#1c1c1c">1</div>
<div class="t" style="left:598.094px;top:499.174px;font-size:19.3px;transform:scaleX(0.9700);color:#1c1c1c">,</div>
<div class="t" style="left:588.448px;top:499.174px;font-size:19.3px;transform:scaleX(0.9700);color:#1c1c1c">3</div>
<div class="t" style="left:577.139px;top:499.174px;font-size:19.3px;transform:scaleX(0.9700);color:#1c1c1c">1</div>
<div class="t" style="left:767.861px;top:499.522px;font-size:19.3px;transform:scaleX(0.8100);color:#1c1c1c">%</div>
<div class="t" style="left:757.248px;top:499.522px;font-size:19.3px;transform:scaleX(0.9700);color:#1c1c1c">6</div>
<div class="t" style="left:751.016px;top:499.522px;font-size:19.3px;transform:scaleX(0.9700);color:#1c1c1c">,</div>
<div class="t" style="left:741.370px;top:499.522px;font-size:19.3px;transform:scaleX(0.9700);color:#1c1c1c">3</div>
<div class="t" style="left:730.313px;top:499.522px;font-size:19.3px;transform:scaleX(0.9700);color:#1c1c1c">8</div>
<div class="t" style="left:884.343px;top:499.960px;font-size:19.3px;transform:scaleX(0.8100);color:#1c1c1c">%</div>
<div class="t" style="left:873.852px;top:499.960px;font-size:19.3px;transform:scaleX(0.9700);color:#1c1c1c">3</div>
<div class="t" style="left:867.498px;top:499.960px;font-size:19.3px;transform:scaleX(0.9700);color:#1c1c1c">,</div>
<div class="t" style="left:857.852px;top:499.960px;font-size:19.3px;transform:scaleX(0.9700);color:#1c1c1c">3</div>
<div class="t" id="n15" style="left:47.198px;top:525.867px;font-size:19.5px;font-weight:400;transform:scaleX(0.96492);color:#1c1c1c">Pastor Daniel de Castro (PP)</div>
<div class="t" style="left:614.904px;top:525.613px;font-size:19.3px;transform:scaleX(0.8100);color:#1c1c1c">%</div>
<div class="t" style="left:604.356px;top:525.613px;font-size:19.3px;transform:scaleX(0.9700);color:#1c1c1c">0</div>
<div class="t" style="left:598.058px;top:525.613px;font-size:19.3px;transform:scaleX(0.9700);color:#1c1c1c">,</div>
<div class="t" style="left:588.356px;top:525.613px;font-size:19.3px;transform:scaleX(0.9700);color:#1c1c1c">0</div>
<div class="t" style="left:577.291px;top:525.613px;font-size:19.3px;transform:scaleX(0.9700);color:#1c1c1c">6</div>
<div class="t" style="left:767.840px;top:525.960px;font-size:19.3px;transform:scaleX(0.8100);color:#1c1c1c">%</div>
<div class="t" style="left:757.292px;top:525.960px;font-size:19.3px;transform:scaleX(0.9700);color:#1c1c1c">0</div>
<div class="t" style="left:750.994px;top:525.960px;font-size:19.3px;transform:scaleX(0.9700);color:#1c1c1c">,</div>
<div class="t" style="left:741.292px;top:525.960px;font-size:19.3px;transform:scaleX(0.9700);color:#1c1c1c">0</div>
<div class="t" style="left:730.348px;top:525.960px;font-size:19.3px;transform:scaleX(0.9700);color:#1c1c1c">4</div>
<div class="t" style="left:884.343px;top:526.398px;font-size:19.3px;transform:scaleX(0.8100);color:#1c1c1c">%</div>
<div class="t" style="left:873.796px;top:526.398px;font-size:19.3px;transform:scaleX(0.9700);color:#1c1c1c">0</div>
<div class="t" style="left:867.498px;top:526.398px;font-size:19.3px;transform:scaleX(0.9700);color:#1c1c1c">,</div>
<div class="t" style="left:857.796px;top:526.398px;font-size:19.3px;transform:scaleX(0.9700);color:#1c1c1c">0</div>
<div class="t" id="n16" style="left:47.646px;top:552.308px;font-size:19.5px;font-weight:400;transform:scaleX(0.98788);color:#1c1c1c">Paula Belmonte (Cidadania)</div>
<div class="t" style="left:614.868px;top:552.051px;font-size:19.3px;transform:scaleX(0.8100);color:#1c1c1c">%</div>
<div class="t" style="left:604.377px;top:552.051px;font-size:19.3px;transform:scaleX(0.9700);color:#1c1c1c">3</div>
<div class="t" style="left:598.023px;top:552.051px;font-size:19.3px;transform:scaleX(0.9700);color:#1c1c1c">,</div>
<div class="t" style="left:588.377px;top:552.051px;font-size:19.3px;transform:scaleX(0.9700);color:#1c1c1c">3</div>
<div class="t" style="left:577.321px;top:552.051px;font-size:19.3px;transform:scaleX(0.9700);color:#1c1c1c">9</div>
<div class="t" style="left:767.818px;top:552.399px;font-size:19.3px;transform:scaleX(0.8100);color:#1c1c1c">%</div>
<div class="t" style="left:757.261px;top:552.399px;font-size:19.3px;transform:scaleX(0.9700);color:#1c1c1c">7</div>
<div class="t" style="left:750.973px;top:552.399px;font-size:19.3px;transform:scaleX(0.9700);color:#1c1c1c">,</div>
<div class="t" style="left:741.205px;top:552.399px;font-size:19.3px;transform:scaleX(0.9700);color:#1c1c1c">6</div>
<div class="t" style="left:884.343px;top:552.836px;font-size:19.3px;transform:scaleX(0.8100);color:#1c1c1c">%</div>
<div class="t" style="left:873.796px;top:552.836px;font-size:19.3px;transform:scaleX(0.9700);color:#1c1c1c">0</div>
<div class="t" style="left:867.498px;top:552.836px;font-size:19.3px;transform:scaleX(0.9700);color:#1c1c1c">,</div>
<div class="t" style="left:857.796px;top:552.836px;font-size:19.3px;transform:scaleX(0.9700);color:#1c1c1c">0</div>
<div class="t" id="n17" style="left:47.529px;top:579.046px;font-size:19.5px;font-weight:400;transform:scaleX(0.92587);color:#1c1c1c">Pepa (PP)</div>
<div class="t" style="left:614.833px;top:578.489px;font-size:19.3px;transform:scaleX(0.8100);color:#1c1c1c">%</div>
<div class="t" style="left:604.285px;top:578.489px;font-size:19.3px;transform:scaleX(0.9700);color:#1c1c1c">0</div>
<div class="t" style="left:597.987px;top:578.489px;font-size:19.3px;transform:scaleX(0.9700);color:#1c1c1c">,</div>
<div class="t" style="left:588.285px;top:578.489px;font-size:19.3px;transform:scaleX(0.9700);color:#1c1c1c">0</div>
<div class="t" style="left:577.219px;top:578.489px;font-size:19.3px;transform:scaleX(0.9700);color:#1c1c1c">6</div>
<div class="t" style="left:767.797px;top:578.837px;font-size:19.3px;transform:scaleX(0.8100);color:#1c1c1c">%</div>
<div class="t" style="left:757.249px;top:578.837px;font-size:19.3px;transform:scaleX(0.9700);color:#1c1c1c">0</div>
<div class="t" style="left:750.951px;top:578.837px;font-size:19.3px;transform:scaleX(0.9700);color:#1c1c1c">,</div>
<div class="t" style="left:741.184px;top:578.837px;font-size:19.3px;transform:scaleX(0.9700);color:#1c1c1c">6</div>
<div class="t" style="left:730.305px;top:578.837px;font-size:19.3px;transform:scaleX(0.9700);color:#1c1c1c">3</div>
<div class="t" style="left:884.343px;top:579.274px;font-size:19.3px;transform:scaleX(0.8100);color:#1c1c1c">%</div>
<div class="t" style="left:873.796px;top:579.274px;font-size:19.3px;transform:scaleX(0.9700);color:#1c1c1c">0</div>
<div class="t" style="left:867.498px;top:579.274px;font-size:19.3px;transform:scaleX(0.9700);color:#1c1c1c">,</div>
<div class="t" style="left:857.852px;top:579.274px;font-size:19.3px;transform:scaleX(0.9700);color:#1c1c1c">4</div>
<div class="t" id="n18" style="left:47.707px;top:605.502px;font-size:19.5px;font-weight:400;transform:scaleX(1.01776);color:#1c1c1c">Nenhum</div>
<div class="t" style="left:614.797px;top:604.927px;font-size:19.3px;transform:scaleX(0.8100);color:#1c1c1c">%</div>
<div class="t" style="left:604.240px;top:604.927px;font-size:19.3px;transform:scaleX(0.9700);color:#1c1c1c">7</div>
<div class="t" style="left:597.951px;top:604.927px;font-size:19.3px;transform:scaleX(0.9700);color:#1c1c1c">,</div>
<div class="t" style="left:588.249px;top:604.927px;font-size:19.3px;transform:scaleX(0.9700);color:#1c1c1c">8</div>
<div class="t" style="left:577.305px;top:604.927px;font-size:19.3px;transform:scaleX(0.9700);color:#1c1c1c">4</div>
<div class="t" style="left:767.775px;top:605.275px;font-size:19.3px;transform:scaleX(0.8100);color:#1c1c1c">%</div>
<div class="t" style="left:757.228px;top:605.275px;font-size:19.3px;transform:scaleX(0.9700);color:#1c1c1c">8</div>
<div class="t" style="left:750.930px;top:605.275px;font-size:19.3px;transform:scaleX(0.9700);color:#1c1c1c">,</div>
<div class="t" style="left:741.246px;top:605.275px;font-size:19.3px;transform:scaleX(0.9700);color:#1c1c1c">5</div>
<div class="t" style="left:730.284px;top:605.275px;font-size:19.3px;transform:scaleX(0.9700);color:#1c1c1c">4</div>
<div class="t" style="left:884.343px;top:605.712px;font-size:19.3px;transform:scaleX(0.8100);color:#1c1c1c">%</div>
<div class="t" style="left:873.814px;top:605.712px;font-size:19.3px;transform:scaleX(0.9700);color:#1c1c1c">5</div>
<div class="t" style="left:867.498px;top:605.712px;font-size:19.3px;transform:scaleX(0.9700);color:#1c1c1c">,</div>
<div class="t" style="left:857.814px;top:605.712px;font-size:19.3px;transform:scaleX(0.9700);color:#1c1c1c">5</div>
<div class="t" id="n19" style="left:47.437px;top:631.741px;font-size:19.5px;font-weight:400;transform:scaleX(0.98446);color:#1c1c1c">Não sabe responder</div>
<div class="t" style="left:614.761px;top:631.365px;font-size:19.3px;transform:scaleX(0.8100);color:#1c1c1c">%</div>
<div class="t" style="left:604.270px;top:631.365px;font-size:19.3px;transform:scaleX(0.9700);color:#1c1c1c">3</div>
<div class="t" style="left:597.916px;top:631.365px;font-size:19.3px;transform:scaleX(0.9700);color:#1c1c1c">,</div>
<div class="t" style="left:588.270px;top:631.365px;font-size:19.3px;transform:scaleX(0.9700);color:#1c1c1c">4</div>
<div class="t" style="left:577.232px;top:631.365px;font-size:19.3px;transform:scaleX(0.9700);color:#1c1c1c">5</div>
<div class="t" style="left:767.754px;top:631.713px;font-size:19.3px;transform:scaleX(0.8100);color:#1c1c1c">%</div>
<div class="t" style="left:757.197px;top:631.713px;font-size:19.3px;transform:scaleX(0.9700);color:#1c1c1c">7</div>
<div class="t" style="left:750.908px;top:631.713px;font-size:19.3px;transform:scaleX(0.9700);color:#1c1c1c">,</div>
<div class="t" style="left:741.141px;top:631.713px;font-size:19.3px;transform:scaleX(0.9700);color:#1c1c1c">6</div>
<div class="t" style="left:730.262px;top:631.713px;font-size:19.3px;transform:scaleX(0.9700);color:#1c1c1c">3</div>
<div class="t" style="left:884.343px;top:632.151px;font-size:19.3px;transform:scaleX(0.8100);color:#1c1c1c">%</div>
<div class="t" style="left:873.796px;top:632.151px;font-size:19.3px;transform:scaleX(0.9700);color:#1c1c1c">0</div>
<div class="t" style="left:867.498px;top:632.151px;font-size:19.3px;transform:scaleX(0.9700);color:#1c1c1c">,</div>
<div class="t" style="left:857.796px;top:632.151px;font-size:19.3px;transform:scaleX(0.9700);color:#1c1c1c">9</div>
</div></body></html>
